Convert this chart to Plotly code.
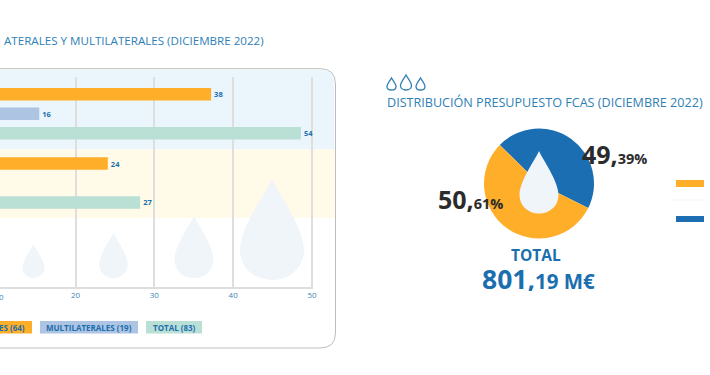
import plotly.graph_objects as go

W, H = 710, 375
X_FIT = 710 / 706  # horizontal fit measured from earlier renders

# Bar chart data (bar lengths read against the printed axis; labels as printed)
groups = ["Grupo 1", "Grupo 2"]
bilaterales_len = [37.2, 24.1]
multilaterales_len = [15.4, 3]
total_len = [48.6, 28.2]
bilaterales_lab = ["38", "24"]
multilaterales_lab = ["16", ""]
total_lab = ["54", "27"]
x_ticks = [20, 30, 40, 50]

# Pie data (slice shares as drawn in the picture)
pie_names = ["Azul", "Naranja"]
pie_shares = [45, 55]

BLUE_TXT = "#1B6FAF"
TITLE = "#2F80B5"
ORANGE = "#FFAE29"
LBLUE = "#AEC4E3"
GREEN = "#BADFD5"
PIE_BLUE = "#1A6EB1"
DROP = "#F0F5FA"
FONT = "Open Sans"


def px(x):
    return min(1, x * X_FIT / W)


def py(y):
    return 1 - y / H


def path(*items):
    out = []
    for it in items:
        if isinstance(it, str):
            out.append(it)
        else:
            out.append(f"{px(it[0]):.5f},{py(it[1]):.5f}")
    return " ".join(out)


def drop_path(cx, top, bottom, w):
    h = bottom - top
    r = w / 2
    return path("M", (cx, top),
                "C", (cx + .16 * r, top + .12 * h), (cx + r, top + .48 * h), (cx + r, top + .70 * h),
                "C", (cx + r, top + .88 * h), (cx + .55 * r, bottom), (cx, bottom),
                "C", (cx - .55 * r, bottom), (cx - r, top + .88 * h), (cx - r, top + .70 * h),
                "C", (cx - r, top + .48 * h), (cx - .16 * r, top + .12 * h), (cx, top), "Z")


def rect(x0, y0, x1, y1, color, layer="below"):
    return dict(type="rect", xref="paper", yref="paper", x0=px(x0), x1=px(x1), y0=py(y1), y1=py(y0),
                fillcolor=color, line_width=0, layer=layer)


def shp(p, fill=None, line=None, lw=0, layer="below"):
    d = dict(type="path", xref="paper", yref="paper", path=p, layer=layer,
             line=dict(color=line or "rgba(0,0,0,0)", width=lw))
    d["fillcolor"] = fill or "rgba(0,0,0,0)"
    return d


def txt(x, y, s, size, color, anchor="center", weight="normal", box_h=None):
    a = dict(xref="paper", yref="paper", x=px(x), y=py(y), text=s, showarrow=False, xanchor=anchor,
             yanchor="middle", font=dict(family=FONT, size=size, color=color, weight=weight))
    if box_h:
        a["height"] = box_h
    return a


shapes = [
    # panel
    shp(path("M", (0, 68.7), "L", (320, 68.7), "Q", (335.5, 68.7), (335.5, 84), "L", (335.5, 333),
             "Q", (335.5, 348), (320, 348), "L", (0, 348)), fill="#FFFFFF", line="#BDBDBD", lw=1),
    shp(path("M", (0, 70), "L", (320, 70), "Q", (334.5, 70), (334.5, 84), "L", (334.5, 149.5),
             "L", (0, 149.5), "Z"), fill="#EAF5FC"),
    rect(0, 149.5, 334.5, 218, "#FFFBE8"),
    # drops
    shp(drop_path(33.5, 244, 278, 22), fill=DROP),
    shp(drop_path(113.5, 233, 278, 28.5), fill=DROP),
    shp(drop_path(194, 216, 278, 39), fill=DROP),
    shp(drop_path(272, 179, 280, 64), fill=DROP),
    # legend chips
    rect(0, 321, 32, 333.5, ORANGE),
    rect(40, 321, 138, 333.5, LBLUE),
    rect(146, 321, 202, 333.5, GREEN),
    # icons above right title
    shp(drop_path(391.5, 78, 90, 9), line=TITLE, lw=1.3),
    shp(drop_path(406, 75, 90, 11), line=TITLE, lw=1.3),
    shp(drop_path(420.5, 78, 90, 9), line=TITLE, lw=1.3),
    # drop in the pie
    shp(drop_path(539, 151, 213.5, 39), fill=DROP, layer="above"),
    # right legend dashes
    rect(676, 180, 704, 187, ORANGE),
    rect(672, 199.5, 710, 200.5, "#F0F5FA"),
    rect(676, 216, 704, 222, PIE_BLUE),
]

annotations = [
    txt(266, 40.5, "ATERALES Y MULTILATERALES (DICIEMBRE 2022)", 11.6, TITLE, "right"),
    txt(705, 102, "DISTRIBUCIÓN PRESUPUESTO FCAS (DICIEMBRE 2022)", 12.6, TITLE, "right"),
    txt(6, 296, "0", 8, "#3E86B4", "right"),
    txt(27, 327.3, "ES (64)", 8, BLUE_TXT, "right", "bold"),
    txt(89, 327.3, "MULTILATERALES (19)", 8, BLUE_TXT, "center", "bold"),
    txt(174.5, 327.3, "TOTAL (83)", 8, BLUE_TXT, "center", "bold"),
    txt(470, 198.5, '50,<span style="font-size:14.5px">61%</span>', 25, "#2B2B2B", "center", "bold"),
    txt(614.5, 154, '49,<span style="font-size:14.5px">39%</span>', 25, "#2B2B2B", "center", "bold"),
    txt(536, 254.5, "TOTAL", 15.5, BLUE_TXT, "center", "bold", box_h=15),
    txt(538, 279, '801,<span style="font-size:20.5px">19 M€</span>', 26.5, BLUE_TXT, "center", "bold", box_h=24),
]

fig = go.Figure()
for name, vals, labs, col in [
    ("Bilaterales", bilaterales_len, bilaterales_lab, ORANGE),
    ("Multilaterales", multilaterales_len, multilaterales_lab, LBLUE),
    ("Total", total_len, total_lab, GREEN),
]:
    fig.add_trace(go.Bar(name=name, y=groups, x=vals, orientation="h", marker=dict(color=col, line_width=0),
                         text=labs, textposition="outside", cliponaxis=True,
                         textfont=dict(family=FONT, size=7.5, color=BLUE_TXT, weight="bold"),
                         showlegend=False, hoverinfo="skip"))

fig.add_trace(go.Pie(labels=pie_names, values=pie_shares, sort=False, direction="clockwise", rotation=-45.5,
                     marker=dict(colors=[PIE_BLUE, ORANGE], line_width=0), textinfo="none", showlegend=False,
                     hoverinfo="skip",
                     domain=dict(x=[px(484), px(594)], y=[py(238.5), py(128.5)])))

fig.update_layout(
    width=W, height=H, margin=dict(l=0, r=0, t=0, b=0), autosize=False,
    paper_bgcolor="#FFFFFF", plot_bgcolor="rgba(0,0,0,0)",
    barmode="group", bargap=0.155, bargroupgap=0.36,
    shapes=shapes, annotations=annotations, font=dict(family=FONT),
    xaxis=dict(domain=[0, px(313)], range=[10.42, 50.13], tickvals=x_ticks, ticks="", showgrid=True,
               gridcolor="#DEDEDE", gridwidth=1.7, showline=True, linecolor="#DEDEDE", linewidth=1.7,
               zeroline=False, tickfont=dict(family=FONT, size=8, color="#3E86B4")),
    yaxis=dict(domain=[py(287), py(77)], range=[2.503, -0.532], showticklabels=False, ticks="", showgrid=False,
               zeroline=False, showline=False, type="category", categoryorder="array", categoryarray=groups),
)

fig.write_html("out.html", config=dict(displayModeBar=False),
               post_script="document.body.style.margin='0';document.documentElement.style.overflow='hidden';")
